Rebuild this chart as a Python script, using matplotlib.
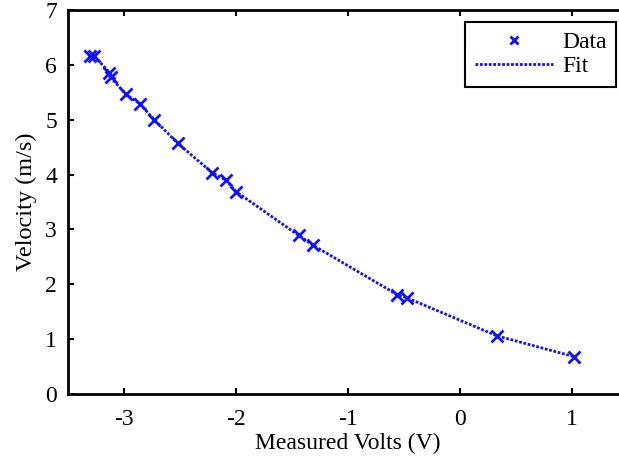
import matplotlib
matplotlib.use("Agg")
import matplotlib.pyplot as plt

volts = [-3.30, -3.27, -3.13, -3.12, -2.98, -2.86, -2.73, -2.52, -2.21, -2.09,
         -2.00, -1.44, -1.31, -0.56, -0.47, 0.33, 1.02]
velocity = [6.17, 6.17, 5.86, 5.77, 5.46, 5.29, 5.00, 4.57, 4.03, 3.90,
            3.69, 2.89, 2.71, 1.81, 1.75, 1.06, 0.68]
fit_volts = volts
fit_velocity = velocity

xticks = [-3, -2, -1, 0, 1]
yticks = [0, 1, 2, 3, 4, 5, 6, 7]

plt.rcParams['font.family'] = ['Liberation Serif', 'DejaVu Serif']
plt.rcParams['font.size'] = 17

fig = plt.figure(figsize=(6.19, 4.63), dpi=100)
ax = fig.add_axes([68/619, 69/463, 560/619, 384/463])

blue = '#1414e6'
ax.plot(fit_volts, fit_velocity, linestyle=(0, (1, 0.6)), color=blue, lw=2, label='Fit', zorder=2)
ax.plot(volts, velocity, linestyle='none', marker='x', ms=8.5, mew=2, color=blue, label='Data', zorder=3)

ax.set_xlim(-3.5, 1.5)
ax.set_ylim(0, 7)
ax.set_xticks(xticks)
ax.set_yticks(yticks)
ax.set_xticklabels([str(t) for t in xticks])
ax.tick_params(direction='in', length=4, width=1.5, top=True, right=False, pad=8, labelsize=17)
ax.tick_params(axis='x', pad=11)
for s in ax.spines.values():
    s.set_linewidth(2)

ax.set_xlabel('Measured Volts (V)', fontsize=17, labelpad=2)
ax.set_ylabel('Velocity (m/s)', fontsize=17.5, labelpad=6)

h, l = ax.get_legend_handles_labels()
leg = ax.legend([h[1], h[0]], [l[1], l[0]], loc='upper right',
                bbox_to_anchor=(616/619, 1 - 22/463), bbox_transform=fig.transFigure,
                fancybox=False, edgecolor='black', framealpha=1, fontsize=17,
                handlelength=3.3, borderpad=0.4, labelspacing=0.12, handletextpad=0.4,
                borderaxespad=0, markerscale=0.75, markerfirst=True)
leg.get_frame().set_linewidth(1.5)

fig.savefig('out.png', dpi=100)
